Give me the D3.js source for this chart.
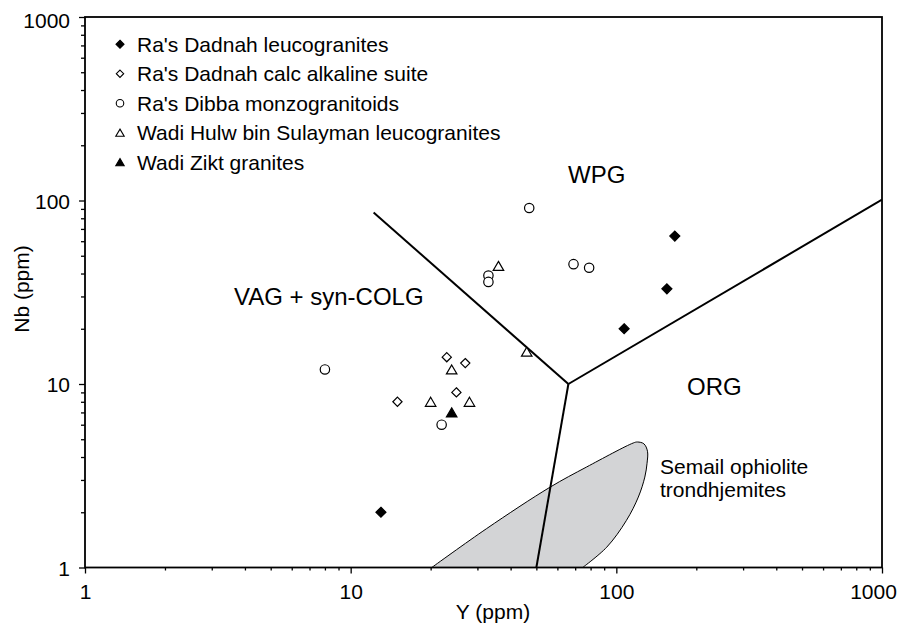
<!DOCTYPE html>
<html>
<head>
<meta charset="utf-8">
<script src="https://cdn.jsdelivr.net/npm/d3@7"></script>
<style>
  body { margin: 0; background: #fff; }
  text { font-family: "Liberation Sans", Arial, Helvetica, sans-serif; fill: #000; }
</style>
</head>
<body>
<svg id="chart" width="909" height="627"></svg>
<script>
// Nb–Y tectonic discrimination diagram (log–log), values in ppm
const decadeTicks = [1, 10, 100, 1000];

const seriesNames = [
  "Ra's Dadnah leucogranites",
  "Ra's Dadnah calc alkaline suite",
  "Ra's Dibba monzogranitoids",
  "Wadi Hulw bin Sulayman leucogranites",
  "Wadi Zikt granites"
];

// [Y, Nb] pairs for each suite
const dadnahLeuco   = [[13, 2], [107, 20], [155, 33], [166, 64]];
const dadnahCalcAlk = [[15, 8], [23, 14], [27, 13], [25, 9]];
const dibbaMonzo    = [[8, 12], [22, 6], [33, 39], [33, 36], [47, 91], [69, 45], [79, 43]];
const hulwLeuco     = [[20, 8], [24, 12], [28, 8], [36, 44], [46, 15]];
const ziktGranites  = [[24, 7]];

// Field boundaries
const boundaryVagWpg = [[12.2, 86], [66, 10]];
const boundaryWpgOrg = [[66, 10], [1000, 101]];
const boundaryVagOrg = [[66, 10], [50, 1]];

// Semail ophiolite trondhjemite field outline
const semailField = [
  [20.2, 1], [32.5, 1.63], [56.3, 2.74], [77.3, 3.53], [115.8, 4.77],
  [120, 4.83], [127, 4.72], [131, 4.3], [130.5, 3.7], [128, 3.11],
  [121, 2.42], [109, 1.8], [92, 1.29], [74.7, 1]
];

const svg = d3.select("#chart");
const m = { left: 85, right: 882, top: 17, bottom: 567.5 };

const x = d3.scaleLog().domain([1, 1000]).range([m.left, m.right]);
const y = d3.scaleLog().domain([1, 1000]).range([m.bottom, m.top]);

const minorX = x.ticks().filter(v => !decadeTicks.includes(v));
const minorY = y.ticks().filter(v => !decadeTicks.includes(v));

// clip for plot contents
svg.append("defs").append("clipPath").attr("id", "plotClip")
  .append("rect").attr("x", m.left).attr("y", m.top)
  .attr("width", m.right - m.left).attr("height", m.bottom - m.top);

const plot = svg.append("g").attr("clip-path", "url(#plotClip)");

// Semail field
const fieldLine = d3.line()
  .x(d => x(d[0])).y(d => y(d[1]))
  .curve(d3.curveCatmullRom.alpha(0.5));
plot.append("path")
  .attr("d", fieldLine(semailField))
  .attr("fill", "#d3d4d6")
  .attr("stroke", "#000")
  .attr("stroke-width", 1);

// boundaries
const segLine = d3.line().x(d => x(d[0])).y(d => y(d[1]));
[boundaryVagWpg, boundaryWpgOrg, boundaryVagOrg].forEach(b => {
  plot.append("path")
    .attr("d", segLine(b))
    .attr("fill", "none")
    .attr("stroke", "#000")
    .attr("stroke-width", 2);
});

// axes: major + minor ticks, bottom and left
function styleAxis(g) {
  g.select(".domain").remove();
  g.selectAll(".tick line").attr("stroke", "#000").attr("stroke-width", 1.3);
  g.selectAll(".tick text")
    .style("font-family", '"Liberation Sans", Arial, sans-serif')
    .style("font-size", "21px").attr("fill", "#000");
}

svg.append("g").attr("transform", `translate(0,${m.bottom})`)
  .call(d3.axisBottom(x).tickValues(minorX).tickSize(3).tickFormat(""))
  .call(styleAxis);
const xMaj = svg.append("g").attr("transform", `translate(0,${m.bottom})`)
  .call(d3.axisBottom(x).tickValues(decadeTicks).tickSize(6).tickPadding(11)
        .tickFormat(d3.format("d")))
  .call(styleAxis);
xMaj.selectAll(".tick text").filter(d => d === 1000).attr("dx", -9);

svg.append("g").attr("transform", `translate(${m.left},0)`)
  .call(d3.axisLeft(y).tickValues(minorY).tickSize(4).tickFormat(""))
  .call(styleAxis);
const yMaj = svg.append("g").attr("transform", `translate(${m.left},0)`)
  .call(d3.axisLeft(y).tickValues(decadeTicks).tickSize(6).tickPadding(9)
        .tickFormat(d3.format("d")))
  .call(styleAxis);
yMaj.selectAll(".tick text").attr("dy", "0.36em");
yMaj.selectAll(".tick text").filter(d => d === 1000).attr("dy", "0.5em");

// frame
svg.append("rect")
  .attr("x", m.left).attr("y", m.top)
  .attr("width", m.right - m.left).attr("height", m.bottom - m.top)
  .attr("fill", "none").attr("stroke", "#000").attr("stroke-width", 1.8);

// symbol shapes
function diamond(s) { return `M0,${-s}L${s},0L0,${s}L${-s},0Z`; }
function triangle(w, h) { return `M0,${-h / 2}L${w / 2},${h / 2}L${-w / 2},${h / 2}Z`; }
function circle(r) { return `M${r},0A${r},${r} 0 1,1 ${-r},0A${r},${r} 0 1,1 ${r},0Z`; }

const series = [
  { name: seriesNames[0], data: dadnahLeuco,   shape: s => diamond(5 * s),            fill: "#000" },
  { name: seriesNames[1], data: dadnahCalcAlk, shape: s => diamond(4.6 * s),          fill: "#fff" },
  { name: seriesNames[2], data: dibbaMonzo,    shape: s => circle(4.7 * s),           fill: "#fff" },
  { name: seriesNames[3], data: hulwLeuco,     shape: s => triangle(10.5 * s, 9 * s), fill: "#fff" },
  { name: seriesNames[4], data: ziktGranites,  shape: s => triangle(10.5 * s, 9 * s), fill: "#000" }
];

series.forEach(sr => {
  svg.append("g").selectAll("path").data(sr.data).join("path")
    .attr("transform", d => `translate(${x(d[0])},${y(d[1])})`)
    .attr("d", sr.shape(1))
    .attr("fill", sr.fill)
    .attr("stroke", "#000")
    .attr("stroke-width", 1.2);
});

// legend
const legend = svg.append("g");
series.forEach((sr, i) => {
  const base = 51.5 + i * 29.5;
  legend.append("path")
    .attr("transform", `translate(120,${base - 7.3})`)
    .attr("d", sr.shape(0.8))
    .attr("fill", sr.fill)
    .attr("stroke", "#000")
    .attr("stroke-width", 1.1);
  legend.append("text")
    .attr("x", 137).attr("y", base)
    .style("font-size", "21px")
    .text(sr.name);
});

// field labels
svg.append("text").attr("x", 568).attr("y", 182.7).style("font-size", "24px").text("WPG");
svg.append("text").attr("x", 234).attr("y", 305).style("font-size", "24px").text("VAG + syn-COLG");
svg.append("text").attr("x", 687).attr("y", 395).style("font-size", "24px").text("ORG");
svg.append("text").attr("x", 660).attr("y", 474).style("font-size", "21px").text("Semail ophiolite");
svg.append("text").attr("x", 660).attr("y", 496.5).style("font-size", "21px").text("trondhjemites");

// axis titles
svg.append("text").attr("x", 493).attr("y", 619).attr("text-anchor", "middle")
  .style("font-size", "21px").text("Y (ppm)");
svg.append("text").attr("transform", "translate(28.5,289) rotate(-90)")
  .attr("text-anchor", "middle").style("font-size", "21px").text("Nb (ppm)");
</script>
</body>
</html>
